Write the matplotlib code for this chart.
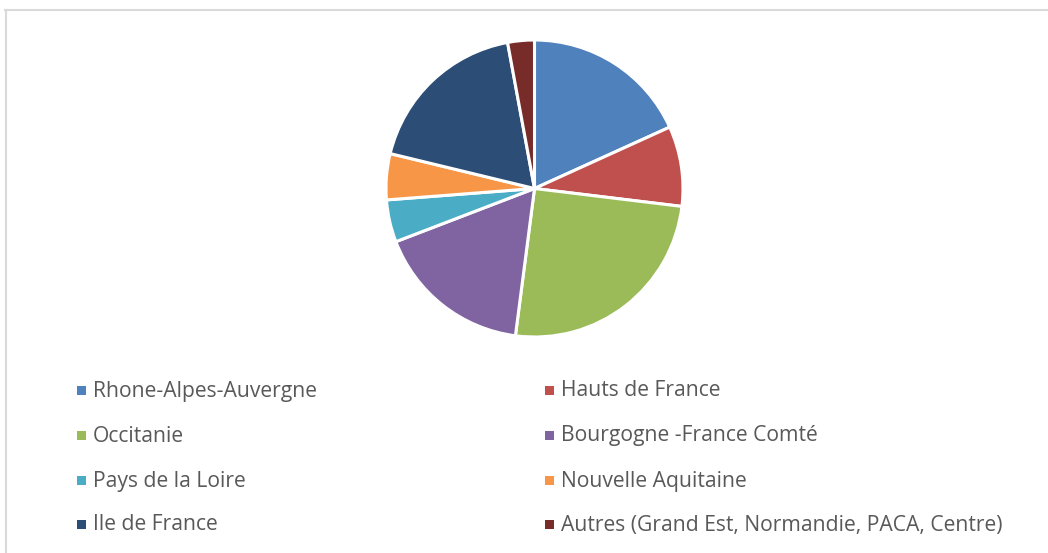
import matplotlib.pyplot as plt
from matplotlib.patches import Rectangle
from matplotlib.lines import Line2D

regions = ['Rhone-Alpes-Auvergne', 'Hauts de France', 'Occitanie',
           'Bourgogne -France Comté', 'Pays de la Loire', 'Nouvelle Aquitaine',
           'Ile de France', 'Autres (Grand Est, Normandie, PACA, Centre)']
shares = [18.2, 8.7, 25.1, 17.1, 4.6, 5.0, 18.3, 2.9]
colors = ['#4F81BD', '#C0504D', '#9BBB59', '#8064A2',
          '#4BACC6', '#F79646', '#2C4D75', '#772C2A']

W, H = 1048, 553
fig = plt.figure(figsize=(W / 100, H / 100), dpi=100)

def px(x0, y0, x1, y1):
  # pixel box (top-left origin) -> figure fraction rect
  return [x0 / W, 1 - y1 / H, (x1 - x0) / W, (y1 - y0) / H]

# pie
cx, cy, r = 534.5, 188.5, 148.5
pad = r * 0.03
ax = fig.add_axes(px(cx - r - pad, cy - r - pad, cx + r + pad, cy + r + pad))
ax.pie(shares, colors=colors, startangle=90, counterclock=False,
       wedgeprops=dict(edgecolor='white', linewidth=2.2))
ax.set_xlim(-1.03, 1.03)
ax.set_ylim(-1.03, 1.03)
ax.set_aspect('equal')
ax.axis('off')

# legend, row-wise in two columns
col_x = [77, 545]
row_y = [390, 435, 480, 524]
for i, (name, c) in enumerate(zip(regions, colors)):
  x = col_x[i % 2]
  y = row_y[i // 2]
  fig.patches.append(Rectangle((x / W, 1 - (y + 4.5) / H), 9 / W, 9 / H,
                               transform=fig.transFigure, facecolor=c, edgecolor='none'))
  fig.text((x + 16) / W, 1 - (y + 1) / H, name, fontsize=15.2, color='#595959',
           family='Open Sans', va='center', ha='left')

# chart frame
fig.lines.append(Line2D([5 / W, 1], [1 - 9.5 / H] * 2, transform=fig.transFigure,
                        color='#D9D9D9', linewidth=1.5))
fig.lines.append(Line2D([6 / W] * 2, [0, 1 - 9.5 / H], transform=fig.transFigure,
                        color='#D9D9D9', linewidth=1.5))

fig.savefig('out.png', dpi=100, facecolor='white')
